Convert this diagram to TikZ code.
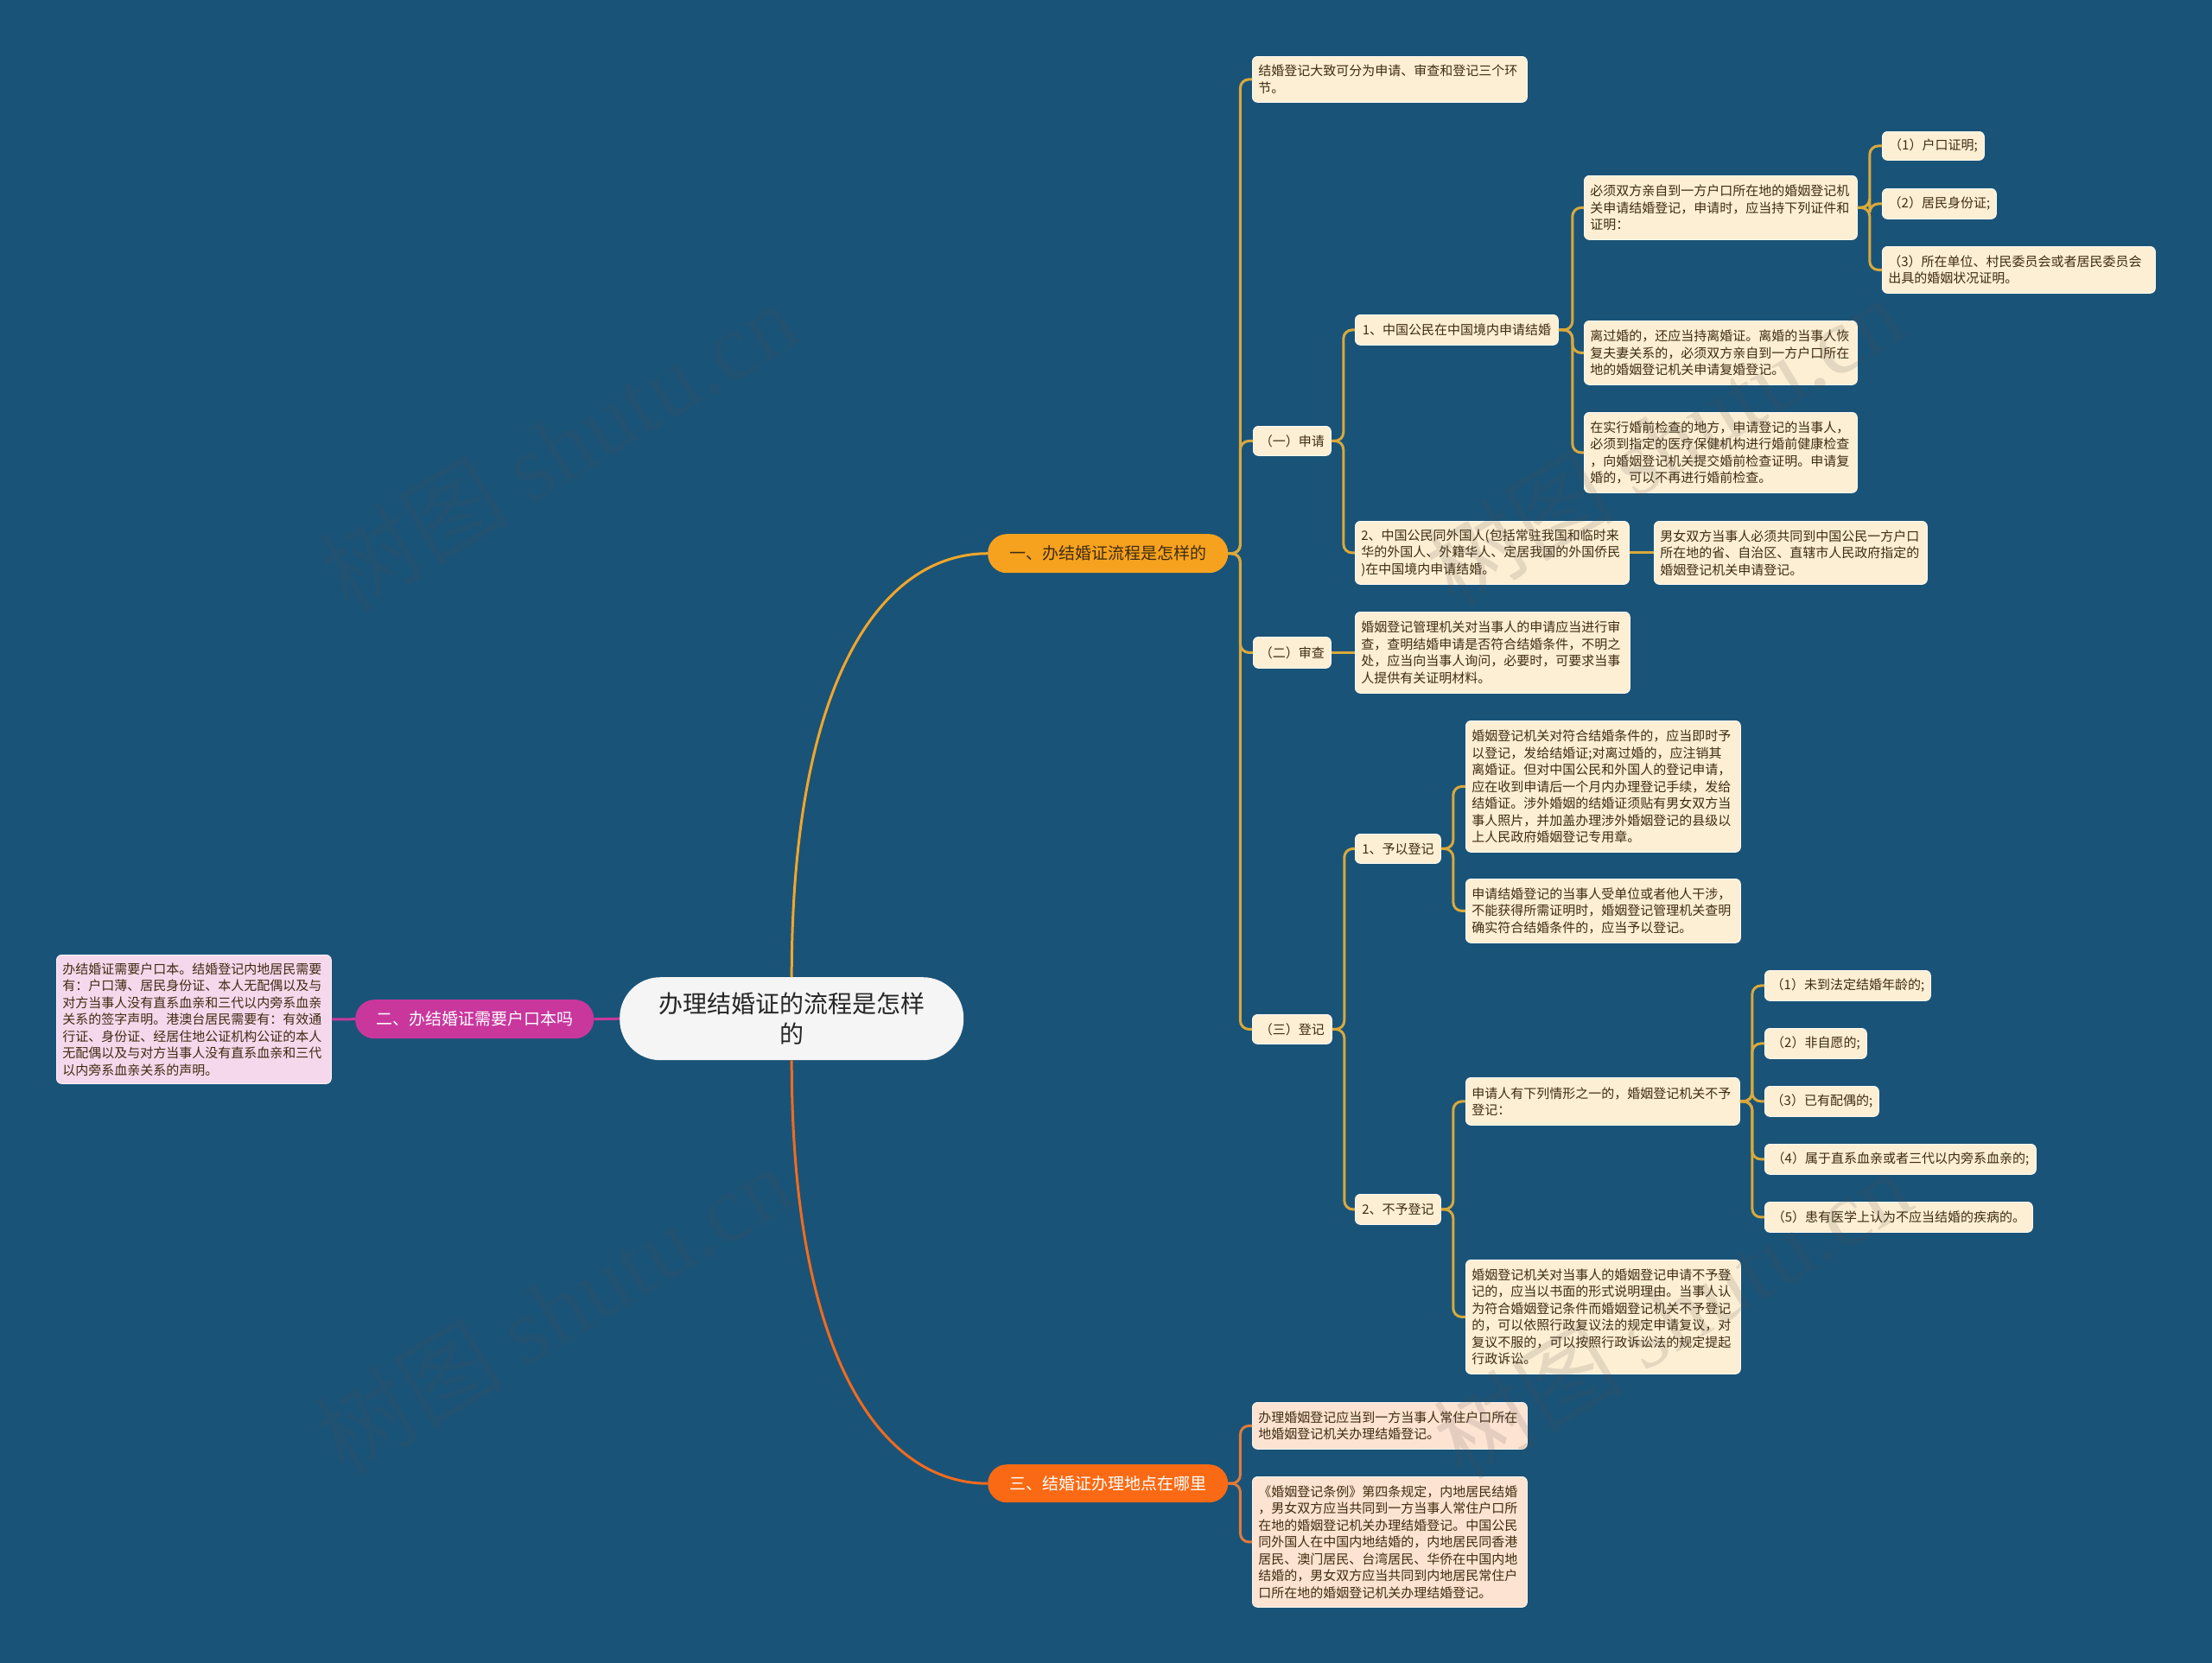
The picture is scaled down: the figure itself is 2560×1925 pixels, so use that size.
\documentclass[tikz,border=0pt]{standalone}
\usepackage{fontspec}
\setmainfont{Noto Sans CJK SC}
\newfontfamily\wmfont{Liberation Serif}
\definecolor{bg}{HTML}{1A5378}
\definecolor{leafA}{HTML}{FDEFD4}
\definecolor{leafB}{HTML}{F6D8EC}
\definecolor{leafC}{HTML}{FDE3D1}
\definecolor{leaftext}{HTML}{3F2C12}
\definecolor{lineA}{HTML}{D9A93B}
\definecolor{mainA}{HTML}{F2A62A}
\definecolor{lineB}{HTML}{C7399B}
\definecolor{lineC}{HTML}{E07B39}
\definecolor{mainC}{HTML}{F26B1D}
\definecolor{brA}{HTML}{F6A21E}
\definecolor{brB}{HTML}{C9379D}
\definecolor{brC}{HTML}{FA6A14}
\tikzset{
  leaf/.style={fill=#1, draw=white!70!#1, line width=0.8pt, rounded corners=6pt, anchor=north west,
    inner xsep=7pt, inner ysep=3pt, text=leaftext, font=\fontsize{15}{19.5}\selectfont, align=left},
  leaf/.default=leafA,
  pill/.style={fill=#1, rounded corners=22pt, anchor=north west, minimum height=45pt,
    minimum width=278pt, inner sep=0pt, font=\fontsize{19}{23}\selectfont},
  conA/.style={draw=lineA, line width=3pt, rounded corners=10pt},
  conC/.style={draw=lineC, line width=3pt, rounded corners=10pt},
  conB/.style={draw=lineB, line width=3pt},
  wm/.style={text=black!70, opacity=0.14, font=\fontsize{110}{120}\selectfont, inner sep=0pt}
}
\begin{document}
\begin{tikzpicture}[x=1pt,y=-1pt]
\fill[bg] (0,0) rectangle (2560,1925);
\useasboundingbox (0,0) rectangle (2560,1925);

% centre
\node[fill=gray!8, rounded corners=47pt, anchor=north west, minimum width=398pt, minimum height=96pt,
  align=center, inner sep=0pt, text=black!85, font=\fontsize{28}{35}\selectfont] (C) at (717,1131)
  {办理结婚证的流程是怎样\\的};

% main branches
\node[pill=brA, text=leaftext] (B1) at (1143,618) {一、办结婚证流程是怎样的};
\node[pill=brB, text=white, minimum width=276pt] (B2) at (411,1157) {二、办结婚证需要户口本吗};
\node[pill=brC, text=white, minimum height=44pt] (B3) at (1143,1695) {三、结婚证办理地点在哪里};

% branch 2 leaf
\node[leaf=leafB, text width=304pt, minimum height=149pt] (L2) at (65,1105)
 {办结婚证需要户口本。结婚登记内地居民需要\\有：户口薄、居民身份证、本人无配偶以及与\\对方当事人没有直系血亲和三代以内旁系血亲\\关系的签字声明。港澳台居民需要有：有效通\\行证、身份证、经居住地公证机构公证的本人\\无配偶以及与对方当事人没有直系血亲和三代\\以内旁系血亲关系的声明。};

% branch 1 nodes
\node[leaf, text width=304pt, minimum height=53pt] (A) at (1449,65)
 {结婚登记大致可分为申请、审查和登记三个环\\节。};
\node[leaf, minimum width=90pt, minimum height=34pt] (S1) at (1450,493) {（一）申请};
\node[leaf, minimum width=90pt, minimum height=36pt] (S2) at (1450,737) {（二）审查};
\node[leaf, minimum width=92pt, minimum height=34pt] (S3) at (1449,1174) {（三）登记};

\node[leaf, minimum width=235pt, minimum height=35pt] (T1) at (1568,364) {1、中国公民在中国境内申请结婚};
\node[leaf, text width=303pt, minimum height=73pt] (T2) at (1568,603)
 {2、中国公民同外国人(包括常驻我国和临时来\\华的外国人、外籍华人、定居我国的外国侨民\\)在中国境内申请结婚。};
\node[leaf, text width=302pt, minimum height=74pt] (U1) at (1833,203)
 {必须双方亲自到一方户口所在地的婚姻登记机\\关申请结婚登记，申请时，应当持下列证件和\\证明：};
\node[leaf, text width=302pt, minimum height=74pt] (U2) at (1833,371)
 {离过婚的，还应当持离婚证。离婚的当事人恢\\复夫妻关系的，必须双方亲自到一方户口所在\\地的婚姻登记机关申请复婚登记。};
\node[leaf, text width=302pt, minimum height=93pt] (U3) at (1833,477)
 {在实行婚前检查的地方，申请登记的当事人，\\必须到指定的医疗保健机构进行婚前健康检查\\，向婚姻登记机关提交婚前检查证明。申请复\\婚的，可以不再进行婚前检查。};
\node[leaf, minimum width=118pt, minimum height=33pt] (V1) at (2178,152) {（1）户口证明;};
\node[leaf, minimum width=132pt, minimum height=35pt] (V2) at (2178,218) {（2）居民身份证;};
\node[leaf, text width=302pt, minimum height=54pt] (V3) at (2178,285)
 {（3）所在单位、村民委员会或者居民委员会\\出具的婚姻状况证明。};
\node[leaf, text width=302pt, minimum height=73pt] (U4) at (1914,603)
 {男女双方当事人必须共同到中国公民一方户口\\所在地的省、自治区、直辖市人民政府指定的\\婚姻登记机关申请登记。};

\node[leaf, text width=304pt, minimum height=94pt] (T3) at (1568,708)
 {婚姻登记管理机关对当事人的申请应当进行审\\查，查明结婚申请是否符合结婚条件，不明之\\处，应当向当事人询问，必要时，可要求当事\\人提供有关证明材料。};

\node[leaf, minimum width=99pt, minimum height=34pt] (T4) at (1568,965) {1、予以登记};
\node[leaf, minimum width=99pt, minimum height=35pt] (T5) at (1568,1382) {2、不予登记};
\node[leaf, text width=304pt, minimum height=152pt] (U5) at (1696,834)
 {婚姻登记机关对符合结婚条件的，应当即时予\\以登记，发给结婚证;对离过婚的，应注销其\\离婚证。但对中国公民和外国人的登记申请，\\应在收到申请后一个月内办理登记手续，发给\\结婚证。涉外婚姻的结婚证须贴有男女双方当\\事人照片，并加盖办理涉外婚姻登记的县级以\\上人民政府婚姻登记专用章。};
\node[leaf, text width=304pt, minimum height=74pt] (U6) at (1696,1017)
 {申请结婚登记的当事人受单位或者他人干涉，\\不能获得所需证明时，婚姻登记管理机关查明\\确实符合结婚条件的，应当予以登记。};
\node[leaf, text width=303pt, minimum height=55pt] (U7) at (1696,1247)
 {申请人有下列情形之一的，婚姻登记机关不予\\登记：};
\node[leaf, text width=304pt, minimum height=132pt] (U8) at (1696,1458)
 {婚姻登记机关对当事人的婚姻登记申请不予登\\记的，应当以书面的形式说明理由。当事人认\\为符合婚姻登记条件而婚姻登记机关不予登记\\的，可以依照行政复议法的规定申请复议，对\\复议不服的，可以按照行政诉讼法的规定提起\\行政诉讼。};
\node[leaf, minimum width=192pt, minimum height=35pt] (V4) at (2042,1123) {（1）未到法定结婚年龄的;};
\node[leaf, minimum width=118pt, minimum height=35pt] (V5) at (2042,1190) {（2）非自愿的;};
\node[leaf, minimum width=132pt, minimum height=35pt] (V6) at (2042,1257) {（3）已有配偶的;};
\node[leaf, minimum width=314pt, minimum height=35pt] (V7) at (2042,1324) {（4）属于直系血亲或者三代以内旁系血亲的;};
\node[leaf, minimum width=310pt, minimum height=35pt] (V8) at (2042,1391) {（5）患有医学上认为不应当结婚的疾病的。};

% branch 3 nodes
\node[leaf=leafC, text width=304pt, minimum height=54pt] (W1) at (1449,1623)
 {办理婚姻登记应当到一方当事人常住户口所在\\地婚姻登记机关办理结婚登记。};
\node[leaf=leafC, text width=304pt, minimum height=151pt] (W2) at (1449,1709)
 {《婚姻登记条例》第四条规定，内地居民结婚\\，男女双方应当共同到一方当事人常住户口所\\在地的婚姻登记机关办理结婚登记。中国公民\\同外国人在中国内地结婚的，内地居民同香港\\居民、澳门居民、台湾居民、华侨在中国内地\\结婚的，男女双方应当共同到内地居民常住户\\口所在地的婚姻登记机关办理结婚登记。};

% connectors
\draw[draw=mainA, line width=3pt] (C.north) .. controls +(0,-350) and +(-120,0) .. (B1.west);
\draw[draw=mainC, line width=3pt] (C.south) .. controls +(0,350) and +(-120,0) .. (B3.west);
\draw[conB] (C.west) -- (B2.east);
\draw[conB] (B2.west) -- (L2.east);

\foreach \c in {A,S1,S2,S3} \draw[conA] (B1.east) -- ++(14,0) |- (\c.west);
\foreach \c in {T1,T2} \draw[conA] (S1.east) -- ++(14,0) |- (\c.west);
\draw[conA] (S2.east) -- (T3.west);
\foreach \c in {T4,T5} \draw[conA] (S3.east) -- ++(14,0) |- (\c.west);
\foreach \c in {U1,U2,U3} \draw[conA] (T1.east) -- ++(16,0) |- (\c.west);
\draw[conA] (T2.east) -- (U4.west);
\foreach \c in {V1,V2,V3} \draw[conA] (U1.east) -- ++(14,0) |- (\c.west);
\foreach \c in {U5,U6} \draw[conA] (T4.east) -- ++(14,0) |- (\c.west);
\foreach \c in {U7,U8} \draw[conA] (T5.east) -- ++(14,0) |- (\c.west);
\foreach \c in {V4,V5,V6,V7,V8} \draw[conA] (U7.east) -- ++(14,0) |- (\c.west);
\foreach \c in {W1,W2} \draw[conC] (B3.east) -- ++(14,0) |- (\c.west);

% watermarks
\node[wm, rotate=31] (wm1) at (646,516) {树图 {\wmfont shutu.cn}};
\node[wm, rotate=31] (wm2) at (1925,510) {树图 {\wmfont shutu.cn}};
\node[wm, rotate=31] (wm3) at (640,1515) {树图 {\wmfont shutu.cn}};
\node[wm, rotate=31] (wm4) at (1935,1520) {树图 {\wmfont shutu.cn}};
\end{tikzpicture}
\end{document}
